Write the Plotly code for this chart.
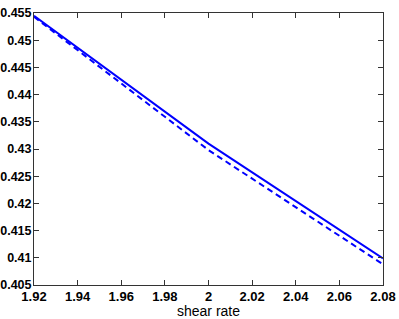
import plotly.graph_objects as go

shear_rate = [1.92, 2.00, 2.08]
solid_vals = [0.4545, 0.4310, 0.4099]
dashed_vals = [0.4543, 0.4298, 0.4088]

x_ticks = [1.92, 1.94, 1.96, 1.98, 2.0, 2.02, 2.04, 2.06, 2.08]
x_tick_labels = ["1.92", "1.94", "1.96", "1.98", "2", "2.02", "2.04", "2.06", "2.08"]
y_ticks = [0.405, 0.41, 0.415, 0.42, 0.425, 0.43, 0.435, 0.44, 0.445, 0.45, 0.455]
y_tick_labels = ["0.405", "0.41", "0.415", "0.42", "0.425", "0.43", "0.435", "0.44", "0.445", "0.45", "0.455"]
x_title = "shear rate"

fig = go.Figure()
fig.add_trace(go.Scatter(x=shear_rate, y=solid_vals, mode="lines",
                         line=dict(color="#0000ff", width=2)))
fig.add_trace(go.Scatter(x=shear_rate, y=dashed_vals, mode="lines",
                         line=dict(color="#0000ff", width=2, dash="6px,4px")))

axis_common = dict(showgrid=False, zeroline=False, showline=True, linecolor="#333333",
                   linewidth=1, mirror="ticks", ticks="inside", ticklen=5,
                   tickcolor="#333333", automargin=False)

fig.update_xaxes(range=[1.92, 2.08], tickvals=x_ticks, ticktext=x_tick_labels,
                 tickfont=dict(family="Liberation Sans, Arial", size=13, color="black", weight="bold"),
                 ticklabelstandoff=-1,
                 **axis_common)
fig.update_yaxes(range=[0.405, 0.455], tickvals=y_ticks, ticktext=y_tick_labels,
                 tickfont=dict(family="Liberation Sans, Arial", size=12.5, color="black", weight="bold"),
                 ticklabelstandoff=-1,
                 **axis_common)

fig.add_annotation(text=x_title, xref="paper", yref="paper", x=0.5, y=-0.096,
                   xanchor="center", yanchor="middle", showarrow=False,
                   font=dict(family="Liberation Sans, Arial", size=14, color="black"))

fig.update_layout(width=399, height=319, showlegend=False,
                  margin=dict(l=34, r=16, t=13, b=34),
                  paper_bgcolor="white", plot_bgcolor="white")

fig.write_html("out.html", config={"displayModeBar": False},
               post_script="document.body.style.margin='0';document.body.style.overflow='hidden';")
